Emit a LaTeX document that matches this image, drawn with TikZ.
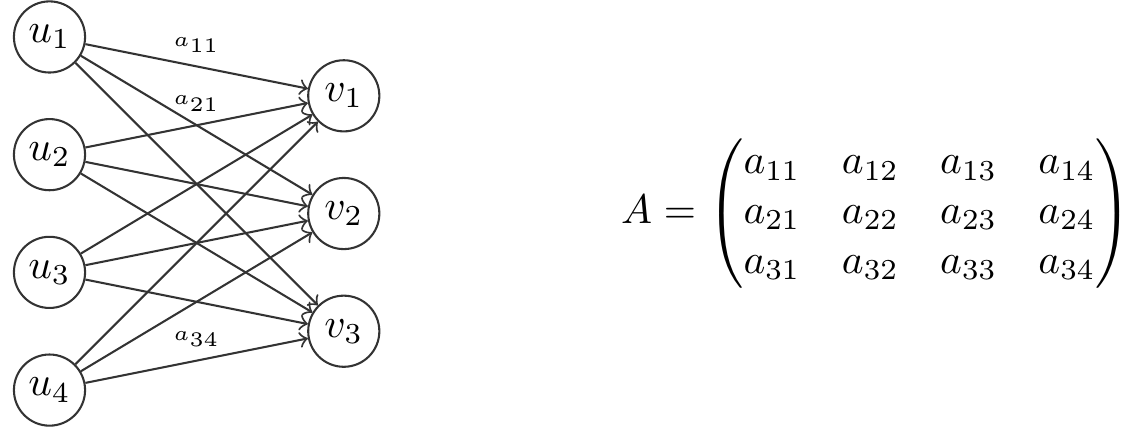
\documentclass[tikz,border=0pt]{standalone}
\usepackage{amsmath}
\begin{document}
\begin{tikzpicture}[
  vertex/.style={circle, draw=black!80, line width=0.5pt, inner sep=1pt, minimum size=17.2pt},
  conn/.style={->, draw=black!80, line width=0.5pt},
  wlabel/.style={midway, above=1.5pt, font=\tiny, inner sep=1.67pt}
]
\useasboundingbox (-0.4206,-3.314) rectangle (9.324,0.314);
\foreach \i in {1,2,3,4} {
  \node[vertex] (u\i) at (0,{-(\i-1)}) {$u_\i$};
}
\foreach \j in {1,2,3} {
  \node[vertex] (v\j) at (2.5,{-0.5-(\j-1)}) {$v_\j$};
}
\draw[conn] (u1) -- (v1) node[wlabel] {$a_{11}$};
\draw[conn] (u1) -- (v2);
\draw[conn] (u1) -- (v3);
\draw[conn] (u2) -- (v1) node[wlabel] {$a_{21}$};
\draw[conn] (u2) -- (v2);
\draw[conn] (u2) -- (v3);
\draw[conn] (u3) -- (v1);
\draw[conn] (u3) -- (v2);
\draw[conn] (u3) -- (v3);
\draw[conn] (u4) -- (v1);
\draw[conn] (u4) -- (v2);
\draw[conn] (u4) -- (v3) node[wlabel] {$a_{34}$};
\node[inner sep=0pt] (mat) at (7.025,-1.5) {$A = \begin{pmatrix}
a_{11} & a_{12} & a_{13} & a_{14}\\
a_{21} & a_{22} & a_{23} & a_{24}\\
a_{31} & a_{32} & a_{33} & a_{34}
\end{pmatrix}$};
\end{tikzpicture}
\end{document}
